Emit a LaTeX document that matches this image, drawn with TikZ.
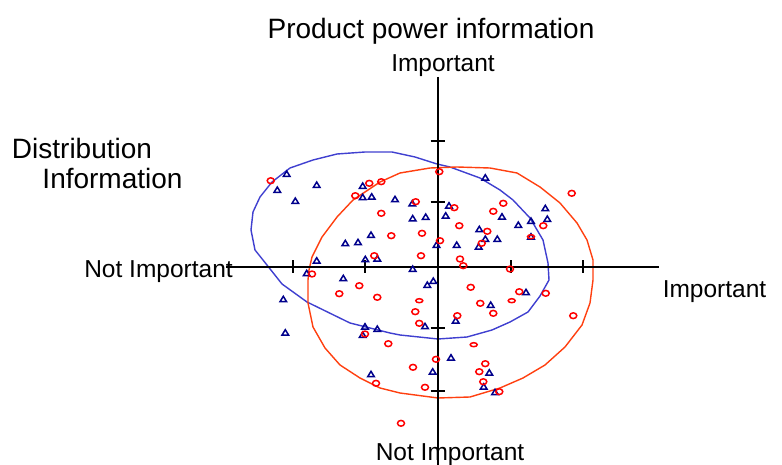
\documentclass[tikz,border=0pt]{standalone}
\usepackage{fontspec}
\setmainfont{Liberation Sans}
\definecolor{navy}{RGB}{0,0,140}
\definecolor{ptred}{RGB}{255,0,0}
\definecolor{blueell}{RGB}{64,64,208}
\definecolor{redell}{RGB}{255,64,16}
\tikzset{
  bigtxt/.style={inner sep=0pt, font=\fontsize{28}{30}\selectfont},
  axtxt/.style={inner sep=0pt, font=\fontsize{24.5}{26}\selectfont},
  axisline/.style={draw=black, line width=2pt},
  tickline/.style={draw=black, line width=2pt},
  tri/.style={draw=navy, line width=1.5pt, line join=miter},
  circ/.style={draw=ptred, line width=1.5pt},
  blueloop/.style={draw=blueell, line width=1.4pt, line join=round},
  redloop/.style={draw=redell, line width=1.4pt, line join=round}
}
\begin{document}
\begin{tikzpicture}[x=1pt,y=-1pt]
\fill[white] (0,0) rectangle (782,465);
\useasboundingbox (0,0) rectangle (782,465);

% labels
\node[bigtxt, anchor=base] (title) at (431,38.5) {Product power information};
\node[axtxt, anchor=base] (topimp) at (443,72) {Important};
\node[bigtxt, anchor=base] (dist) at (82,158.5) {Distribution};
\node[bigtxt, anchor=base] (info) at (112.5,189) {Information};
\node[axtxt, anchor=base] (leftni) at (158.5,277) {Not Important};
\node[axtxt, anchor=base] (rightimp) at (714.5,297) {Important};
\node[axtxt, anchor=base] (botni) at (450,460) {Not Important};

% ellipses (polylines)
\draw[blueloop] (255,250) -- (251,230) -- (253,212) -- (260,197) -- (272,182) -- (290,168)
  -- (313,160) -- (337,154) -- (365,152) -- (392,152) -- (415,157) -- (437,164) -- (450,167)
  -- (480,178) -- (500,190) -- (513,200) -- (530,218) -- (543,240) -- (548,263) -- (549,280)
  -- (540,296) -- (528,312) -- (510,322) -- (492,330) -- (467,337) -- (438,339) -- (400,335)
  -- (390,333) -- (350,323) -- (307,302) -- (282,284) -- (263,260) -- cycle;
\draw[redloop] (309,270) -- (308,280) -- (308,303) -- (313,327) -- (325,348) -- (340,365)
  -- (360,378) -- (380,388) -- (400,393) -- (438,398) -- (470,397) -- (500,388) -- (523,378)
  -- (545,365) -- (565,347) -- (582,325) -- (590,303) -- (593,280) -- (593,260) -- (587,240)
  -- (577,223) -- (560,203) -- (540,187) -- (517,173) -- (490,168) -- (457,167) -- (430,168)
  -- (400,173) -- (380,182) -- (353,200) -- (337,217) -- (322,237) -- (312,257) -- cycle;

% axes
\coordinate (xl) at (226,267);
\coordinate (xr) at (659,267);
\coordinate (yt) at (437.5,77);
\coordinate (yb) at (437.5,465);
\draw[axisline] (xl) -- (xr);
\draw[axisline] (yt) -- (yb);
\foreach \t in {293,365,511,583} \draw[tickline] (\t,260.5) -- (\t,273.5);
\foreach \t in {141,202.5,328.3,390.7} \draw[tickline] (430.5,\t) -- (444.5,\t);

% triangles
\foreach \x/\y in {286.7/174, 277.3/190, 316.7/185, 295.3/201, 362.7/186, 362.7/197.3,
  371.7/196.7, 395/199.3, 412.3/203.5, 412.7/218.5, 425.7/217, 371/235, 345.3/243.3,
  358/242.3, 377.3/258.7, 365.3/259.3, 316.7/260.7, 436.5/245, 412.7/269,
  485.3/177.7, 449/205.7, 445.7/215.7, 502/216.7, 545.3/208.3, 547.3/219, 518.3/225,
  531/221, 479.3/229.3, 485.3/239, 497.3/239, 478.7/246.7, 531/236.7, 456.7/245,
  306.7/273.3, 343.3/278.3, 427.3/285, 433.3/281, 283.3/299.3, 425/326.3, 365/326.7,
  377.3/329, 362.7/335, 285.3/332.7, 371/374.3, 432.7/371.7,
  526/292.3, 490.7/305, 455.7/320.7, 451/357.7, 489.3/372.7, 483.7/386.7, 495/392.3}
  \draw[tri] (\x,\y) +(-3.3,2.4) -- +(3.3,2.4) -- +(0,-3) -- cycle;

% circles
\foreach \x/\y in {270.7/180.7, 369.3/183.3, 381.3/181.7, 355.3/195.7, 415.7/201.7,
  381.3/213.3, 391.3/235.7, 422/233.3, 374.3/255.7, 421/255.7, 439.3/171.7,
  571.7/193.3, 454.3/207.7, 503.3/203.3, 493.3/211.3, 543.3/225.7, 459.3/225.7,
  487.3/231.3, 481.7/243.3, 440/240.7, 460/259, 463.3/265.7, 510/269,
  312/274, 359.3/285.7, 339.3/293.7, 377.3/297.3, 415.3/311.7, 419.3/323.3,
  365/334, 388.3/343.7, 436/359.3, 413/367.3, 376/383.3,
  470.7/287.3, 519.3/291.7, 545.7/293.3, 480.3/303.3, 493.3/313.3, 457.3/315.7,
  573.3/315.7, 485.3/363.7, 479.3/371.7, 483.3/381.7, 425/387.3, 499.3/391.7, 401/423.3}
  \draw[circ] (\x,\y) ellipse [x radius=3.5pt, y radius=2.9pt];
\foreach \x/\y in {419.3/300.7, 511.7/300.7, 473.7/344.7, 531/236.7}
  \draw[circ] (\x,\y) ellipse [x radius=3.5pt, y radius=2pt];
\end{tikzpicture}
\end{document}
